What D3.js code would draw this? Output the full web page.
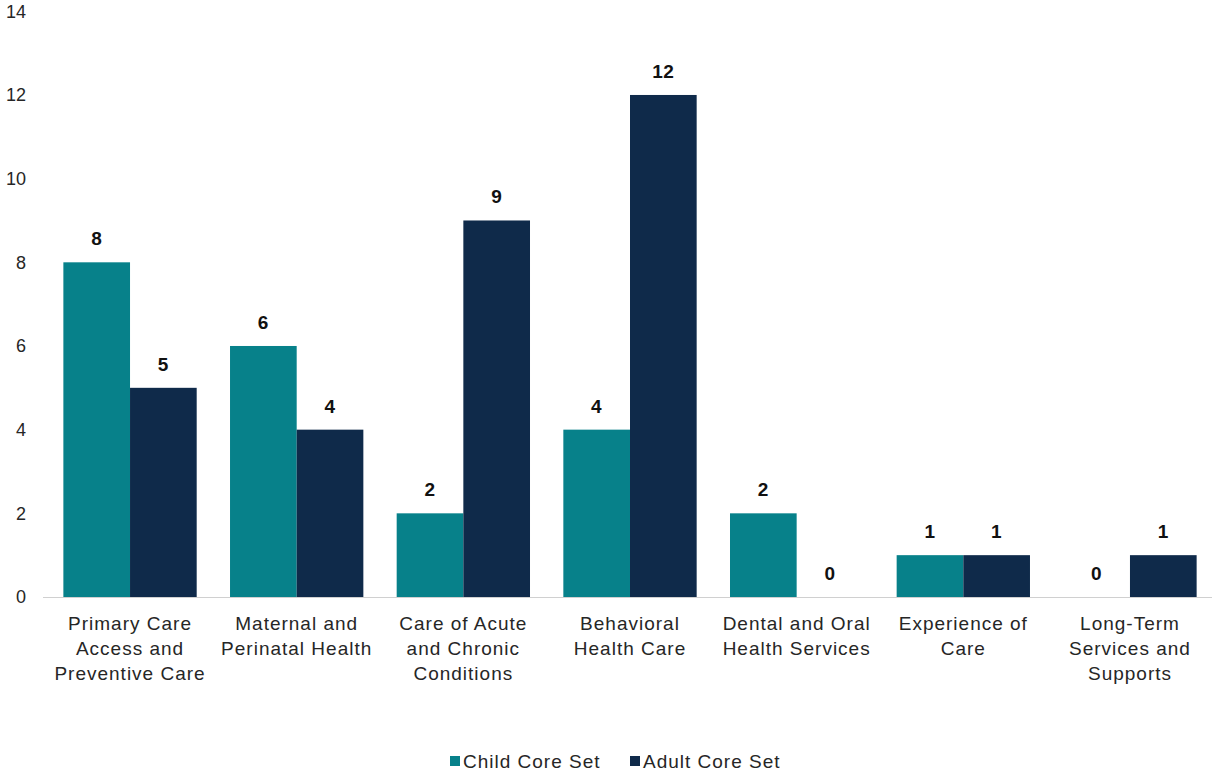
<!DOCTYPE html>
<html>
<head>
<meta charset="utf-8">
<script src="https://cdn.jsdelivr.net/npm/d3@7"></script>
<style>
  body { margin: 0; background: #fff; }
  text { font-family: "Liberation Sans", Arial, sans-serif; fill: #262626; }
</style>
</head>
<body>
<div id="chart"></div>
<script>
const width = 1212, height = 772;

// data
const categories = [
	["Primary Care", "Access and", "Preventive Care"],
	["Maternal and", "Perinatal Health"],
	["Care of Acute", "and Chronic", "Conditions"],
	["Behavioral", "Health Care"],
	["Dental and Oral", "Health Services"],
	["Experience of", "Care"],
	["Long-Term", "Services and", "Supports"]
];
const seriesNames = ["Child Core Set", "Adult Core Set"];
const childValues = [8, 6, 2, 4, 2, 1, 0];
const adultValues = [5, 4, 9, 12, 0, 1, 1];
const yTicks = [0, 2, 4, 6, 8, 10, 12, 14];
const colors = ["#07818a", "#0f2a4a"];

const svg = d3.select("#chart")
	.append("svg")
	.attr("width", width)
	.attr("height", height);

const x0 = d3.scaleBand()
	.domain(d3.range(categories.length))
	.range([46.7, 1213.3])
	.paddingInner(0.2)
	.paddingOuter(0.1);

const x1 = d3.scaleBand()
	.domain([0, 1])
	.range([0, x0.bandwidth()]);

const y = d3.scaleLinear()
	.domain([0, 14])
	.range([597, 11.3]);

// y tick labels (no axis line)
svg.append("g")
	.selectAll("text")
	.data(yTicks)
	.join("text")
	.attr("x", 26)
	.attr("y", (d) => y(d))
	.attr("dy", "0.35em")
	.attr("text-anchor", "end")
	.style("font-size", "18px")
	.text((d) => d);

// bars
const rows = categories.map((c, i) => [childValues[i], adultValues[i]]);

const groups = svg.append("g")
	.selectAll("g")
	.data(rows)
	.join("g")
	.attr("transform", (d, i) => `translate(${x0(i)},0)`);

groups.selectAll("rect")
	.data((d) => d)
	.join("rect")
	.attr("x", (d, j) => x1(j))
	.attr("y", (d) => y(d))
	.attr("width", x1.bandwidth())
	.attr("height", (d) => y(0) - y(d))
	.attr("fill", (d, j) => colors[j]);

groups.selectAll("text.val")
	.data((d) => d)
	.join("text")
	.classed("val", true)
	.attr("x", (d, j) => x1(j) + x1.bandwidth() / 2)
	.attr("y", (d) => y(d) - 17)
	.attr("text-anchor", "middle")
	.style("font-size", "19px")
	.style("font-weight", "bold")
	.style("letter-spacing", "0.5px")
	.style("fill", "#111")
	.text((d) => d);

// x axis line
svg.append("line")
	.attr("x1", 43)
	.attr("x2", 1212)
	.attr("y1", y(0) + 0.5)
	.attr("y2", y(0) + 0.5)
	.attr("stroke", "#d0d0d0")
	.attr("stroke-width", 1);

// category labels
const catLabels = svg.append("g")
	.selectAll("text")
	.data(categories)
	.join("text")
	.attr("text-anchor", "middle")
	.style("font-size", "19px")
	.style("letter-spacing", "1px")
	.attr("transform", (d, i) => `translate(${x0(i) + x0.bandwidth() / 2},630)`);

catLabels.selectAll("tspan")
	.data((d) => d)
	.join("tspan")
	.attr("x", 0)
	.attr("y", (d, k) => k * 25)
	.text((d) => d);

// legend
const legendX = [450, 630];
const legend = svg.append("g")
	.selectAll("g")
	.data(seriesNames)
	.join("g")
	.attr("transform", (d, i) => `translate(${legendX[i]},761)`);

legend.append("rect")
	.attr("x", 0)
	.attr("y", -5)
	.attr("width", 10)
	.attr("height", 10)
	.attr("fill", (d, i) => colors[i]);

legend.append("text")
	.attr("x", 13)
	.attr("y", 0)
	.attr("dy", "0.35em")
	.style("font-size", "19px")
	.style("letter-spacing", "1px")
	.text((d) => d);
</script>
</body>
</html>
